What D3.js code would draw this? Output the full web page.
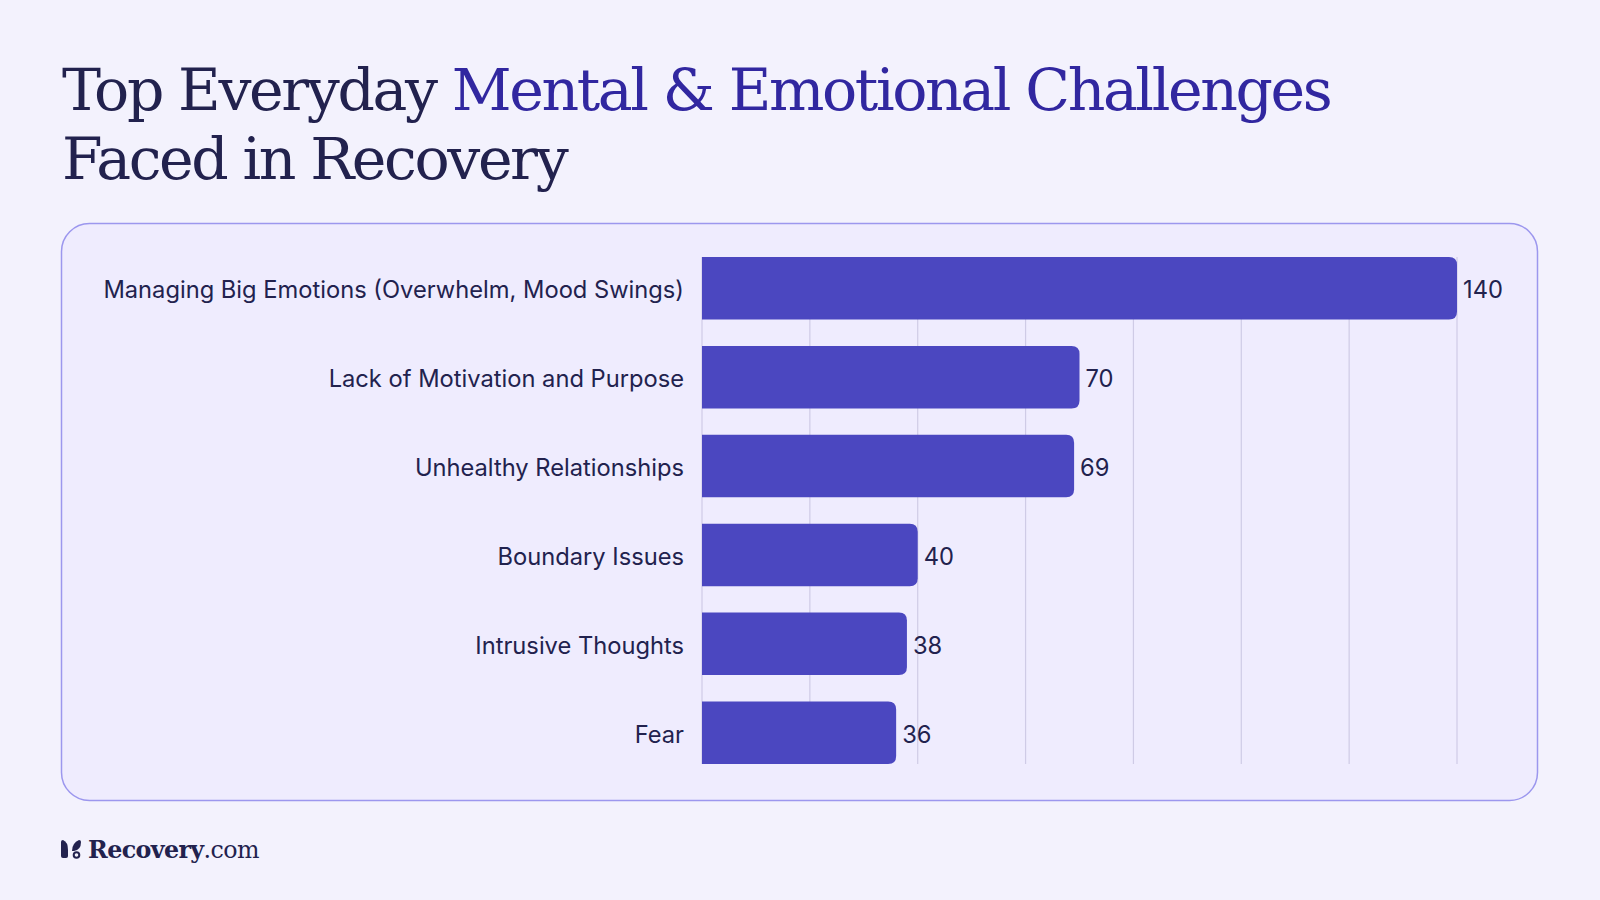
<!DOCTYPE html>
<html><head><meta charset="utf-8">
<script src="https://cdn.jsdelivr.net/npm/d3@7"></script>
<style>
html,body{margin:0;padding:0;background:#F3F2FD;}
svg{display:block;}
</style></head>
<body>
<svg id="chart" width="1600" height="900"></svg>
<script>
const categories = ["Managing Big Emotions (Overwhelm, Mood Swings)","Lack of Motivation and Purpose","Unhealthy Relationships","Boundary Issues","Intrusive Thoughts","Fear"];
const values = [140,70,69,40,38,36];
const gridTicks = [0,20,40,60,80,100,120,140];
const titleLine1 = ["Top Everyday ", "Mental & Emotional Challenges"];
const titleLine2 = "Faced in Recovery";
const brand = ["Recovery", ".com"];

const svg = d3.select("#chart");
const navy = "#22224E", purple = "#3127A0", barColor = "#4B47C0";

svg.append("rect").attr("width",1600).attr("height",900).attr("fill","#F3F2FD");

// Title
const serif = "'DejaVu Serif', 'Liberation Serif', serif";
const t1 = svg.append("text").attr("x",62).attr("y",110)
  .attr("font-family",serif).attr("font-size",56).attr("fill",navy).attr("letter-spacing",-2.4);
t1.append("tspan").text(titleLine1[0]);
t1.append("tspan").attr("fill",purple).text(titleLine1[1]);
const t2 = svg.append("text").attr("x",62).attr("y",179)
  .attr("font-family",serif).attr("font-size",56).attr("fill",navy).attr("letter-spacing",-2.4).text(titleLine2);
// fit title width to reference
const w1 = t1.node().getComputedTextLength();
const fs = 56 * 1264 / w1;
t1.attr("font-size",fs); t2.attr("font-size",fs);

// Panel
svg.append("rect").attr("x",61.5).attr("y",223.5).attr("width",1476).attr("height",577)
  .attr("rx",28).attr("fill","#EFECFE").attr("stroke","#9C97EE").attr("stroke-width",1.5);

// Scales
const x = d3.scaleLinear().domain([0,140]).range([702,1457]);
const y = d3.scaleBand().domain(categories).range([257,764]).paddingInner(0.297).paddingOuter(0);

// Gridlines
svg.append("g").selectAll("line").data(gridTicks).join("line")
  .attr("x1",d=>x(d)).attr("x2",d=>x(d)).attr("y1",y.range()[0]).attr("y2",y.range()[1])
  .attr("stroke","#CFCBE6").attr("stroke-width",1.2);

// Bars (rounded right corners)
const r = 8;
function barPath(d,i){
  const x0 = x(0), x1 = x(values[i]), y0 = y(d), h = y.bandwidth();
  return `M${x0},${y0}H${x1-r}Q${x1},${y0} ${x1},${y0+r}V${y0+h-r}Q${x1},${y0+h} ${x1-r},${y0+h}H${x0}Z`;
}
svg.append("g").selectAll("path").data(categories).join("path")
  .attr("d",barPath).attr("fill",barColor);

const sans = "'Inter', 'Lato', sans-serif";
// Category labels
const labels = svg.append("g").selectAll("text").data(categories).join("text")
  .attr("x",x(0)-18).attr("y",d=>y(d)+y.bandwidth()/2).attr("dy","0.42em")
  .attr("text-anchor","end").attr("font-family",sans).attr("font-size",22.5)
  .attr("fill",navy).text(d=>d);
const lw = labels.nodes()[0].getComputedTextLength();
const lfs = 22.5*581/lw;
labels.attr("font-size",lfs);

// Value labels
svg.append("g").selectAll("text").data(categories).join("text")
  .attr("x",(d,i)=>x(values[i])+6).attr("y",d=>y(d)+y.bandwidth()/2).attr("dy","0.42em")
  .attr("font-family",sans).attr("font-size",lfs).attr("fill",navy).text((d,i)=>values[i]);

// Logo
const logo = svg.append("g").attr("fill",navy);
logo.append("path").attr("d","M61,842 Q61,840 63,840 Q68,842 68,850 L68,856 Q68,858 66,858 L63,858 Q61,858 61,856 Z");
logo.append("path").attr("d","M72,851 Q72,843 79,840 Q81,840 81,842 Q81,850 74,851 Z");
logo.append("circle").attr("cx",76.5).attr("cy",855).attr("r",2.8).attr("fill","none").attr("stroke",navy).attr("stroke-width",2);
const lt = svg.append("text").attr("x",88).attr("y",858).attr("font-family",serif).attr("font-size",24).attr("fill",navy).attr("letter-spacing",-0.6);
lt.append("tspan").attr("font-weight","bold").text(brand[0]);
lt.append("tspan").text(brand[1]);
const ltw = lt.node().getComputedTextLength();
lt.attr("font-size",24*171/ltw);
</script>
</body></html>
